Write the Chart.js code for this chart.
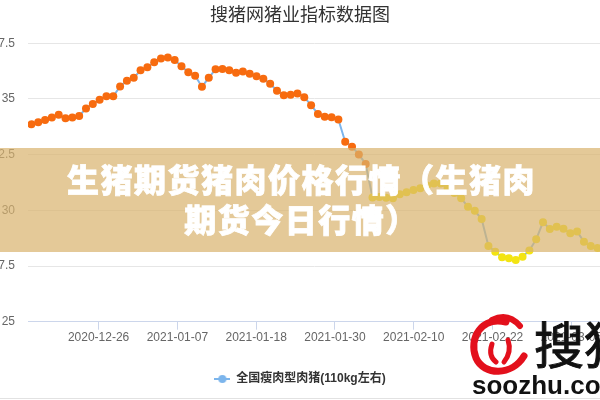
<!DOCTYPE html>
<html>
<head>
<meta charset="utf-8">
<script src="https://cdn.jsdelivr.net/npm/chart.js@4.4.0/dist/chart.umd.min.js"></script>
<style>
  html, body { margin: 0; padding: 0; background: #fff; }
  #wrap { position: relative; width: 600px; height: 400px; overflow: hidden; background: #fff; }
  #chart { position: absolute; left: -20px; top: 0; }
  .banner { position: absolute; left: 0; top: 148px; width: 600px; height: 104px; background: rgba(216, 178, 108, 0.7); }
  .banner div { position: absolute; left: 0; width: 600px; text-align: center; color: #fff;
    font: 900 32px/36px "Noto Sans CJK SC", sans-serif; letter-spacing: 1.5px; padding-left: 1.5px;
    -webkit-text-stroke: 0.8px #fff; white-space: nowrap; }
  .logo { position: absolute; left: 462px; top: 310px; width: 140px; height: 90px; }
  .logo .cn { position: absolute; left: 72px; top: 2px; font: 400 50px/60px "Noto Sans CJK SC", serif; color: #111;
    -webkit-text-stroke: 1px #111; white-space: nowrap; }
  .logo .en { position: absolute; left: 10px; top: 60px; font: 700 26px/30px "Liberation Sans", Arial, sans-serif; color: #111; white-space: nowrap; }
  .bottomline { position: absolute; left: 0; top: 398px; width: 600px; height: 1px; background: #e2e2e2; }
</style>
</head>
<body>
<div id="wrap">
  <canvas id="chart" width="640" height="400"></canvas>
  <div class="banner">
    <div style="top:12px">生猪期货猪肉价格行情（生猪肉</div>
    <div style="top:52px">期货今日行情）</div>
  </div>
  <div class="logo">
    <svg width="72" height="66" style="position:absolute;left:0;top:4px">
      <path d="M44 8 C20 2 6 24 14 44 C22 62 50 62 62 42" fill="none" stroke="#e3101c" stroke-width="7" stroke-linecap="round"/>
      <path d="M30 6 Q46 -2 58 12" fill="none" stroke="#e3101c" stroke-width="6" stroke-linecap="round"/>
      <path d="M30 30 Q26 42 34 48" fill="none" stroke="#e3101c" stroke-width="5" stroke-linecap="round"/>
      <path d="M46 26 Q50 38 42 48" fill="none" stroke="#e3101c" stroke-width="5" stroke-linecap="round"/>
    </svg>
    <div class="cn">搜猪</div>
    <div class="en">soozhu.com</div>
  </div>
  <div class="bottomline"></div>
</div>
<script>
// --- data ---
const startDate = '2020-12-16';
const tickLabels = ['2020-12-26', '2021-01-07', '2021-01-18', '2021-01-30', '2021-02-10', '2021-02-22', '2021-03-05'];
const prices = [
  33.86, 33.95, 34.06, 34.17, 34.29, 34.13, 34.17, 34.24, 34.57, 34.78,
  34.97, 35.12, 35.12, 35.56, 35.82, 35.95, 36.29, 36.43, 36.65, 36.82,
  36.86, 36.75, 36.47, 36.20, 36.04, 35.55, 35.95, 36.34, 36.35, 36.29,
  36.18, 36.23, 36.13, 36.02, 35.91, 35.68, 35.37, 35.17, 35.19, 35.25,
  35.08, 34.72, 34.33, 34.20, 34.18, 34.08, 33.08, 32.86, 32.51, 32.08,
  30.58, 30.60, 30.57, 30.54, 30.72, 30.81, 30.91, 30.99, 31.11, 31.21,
  31.21, 31.00, 30.78, 30.54, 30.16, 29.98, 29.61, 28.40, 28.14, 27.89,
  27.85, 27.77, 27.92, 28.20, 28.70, 29.47, 29.16, 29.26, 29.17, 28.97,
  29.05, 28.59, 28.40, 28.31
];
const seriesName = '全国瘦肉型肉猪(110kg左右)';
const threshold = 31.6;

// --- colours ---
const lineColor = '#7cb5ec';
const highColor = '#f76b0f';
const lowColor = '#f3e412';

// --- legend symbol: line with a dot ---
const icon = document.createElement('canvas');
icon.width = 16; icon.height = 10;
const ic = icon.getContext('2d');
ic.strokeStyle = lineColor; ic.lineWidth = 2;
ic.beginPath(); ic.moveTo(0, 5); ic.lineTo(16, 5); ic.stroke();
ic.fillStyle = lineColor;
ic.beginPath(); ic.arc(8, 5, 4, 0, Math.PI * 2); ic.fill();

// tick spacing of the date axis (labels every ~11.5 days)
const firstTick = 9.85;
const tickStep = 11.55;

const ctx = document.getElementById('chart').getContext('2d');
new Chart(ctx, {
  type: 'line',
  data: {
    datasets: [{
      label: seriesName,
      data: prices.map((v, i) => ({ x: i, y: v })),
      borderColor: lineColor,
      borderWidth: 2,
      tension: 0,
      pointRadius: 4,
      pointBorderWidth: 0,
      pointBackgroundColor: c => (prices[c.dataIndex] >= threshold ? highColor : lowColor),
      pointStyle: 'circle'
    }]
  },
  options: {
    responsive: false,
    animation: false,
    events: [],
    layout: { padding: { left: 19, right: 19, top: 0, bottom: 5 } },
    plugins: {
      title: {
        display: true,
        text: '搜猪网猪业指标数据图',
        color: '#333333',
        font: { family: '"Noto Sans CJK SC", sans-serif', size: 18, weight: 'normal' },
        padding: { top: 3, bottom: 18.7 }
      },
      legend: {
        position: 'bottom',
        labels: {
          usePointStyle: true,
          pointStyle: icon,
          pointStyleWidth: 16,
          color: '#333333',
          padding: 10,
          font: { family: '"Liberation Sans", "Noto Sans CJK SC", sans-serif', size: 12, weight: 'bold' }
        }
      },
      tooltip: { enabled: false }
    },
    scales: {
      x: {
        type: 'linear',
        min: -0.5,
        max: prices.length - 0.5,
        afterFit: s => { s.height = 41.3; },
        afterBuildTicks: s => {
          s.ticks = tickLabels.map((_, k) => ({ value: firstTick + k * tickStep }));
        },
        ticks: {
          autoSkip: false,
          maxRotation: 0,
          padding: 1,
          color: '#666666',
          font: { family: '"Liberation Sans", sans-serif', size: 12 },
          callback: (v, i) => tickLabels[i]
        },
        grid: { drawOnChartArea: false, drawTicks: true, tickLength: 8, color: '#ccd6eb' },
        border: { color: '#ccd6eb', width: 1 }
      },
      y: {
        min: 25,
        max: 37.5,
        afterFit: s => { s.width = 29; },
        ticks: {
          stepSize: 2.5,
          padding: 13,
          color: '#666666',
          font: { family: '"Liberation Sans", sans-serif', size: 12 }
        },
        grid: { color: '#e6e6e6', drawTicks: false },
        border: { display: false }
      }
    }
  }
});
</script>
</body>
</html>
